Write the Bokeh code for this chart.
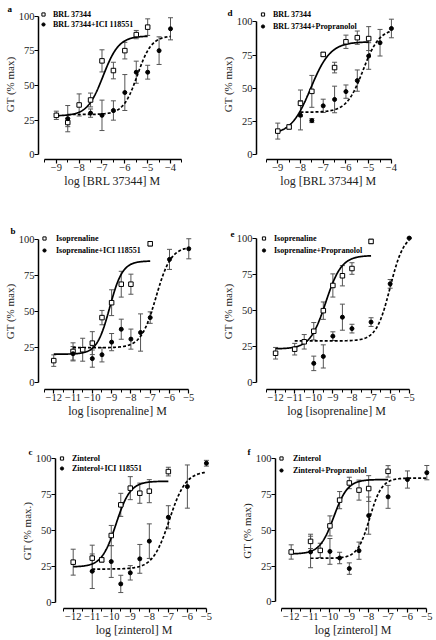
import numpy as np
from bokeh.plotting import figure
from bokeh.models import (ColumnDataSource, Whisker, TeeHead, Legend, LegendItem,
                          FixedTicker, Range1d)
from bokeh.layouts import row, column
from bokeh.embed import file_html
from bokeh.resources import INLINE

FONT = "Liberation Serif"

# ---------------- data ----------------
# panel a : BRL 37344 +/- ICI 118551
a_ctrl_x = [-9, -8.5, -8, -7.5, -7, -6.5, -6, -5.5, -5]
a_ctrl_y = [28.4, 23.2, 35.9, 39.5, 67.8, 60.8, 75.2, 86.8, 92.2]
a_ctrl_err = [3, 3, 8, 5, 8, 6, 6, 3, 6]
a_ant_x = [-8.5, -7.5, -7, -6.5, -6, -5.5, -5, -4.5, -4]
a_ant_y = [26, 30, 28.4, 31.9, 44.9, 59.6, 59.6, 75.2, 91]
a_ant_err = [9.5, 3, 11, 7, 13, 8, 5, 10, 8]
a_fit_ctrl = [28, 85.8, -6.95, 1.25]   # bottom, top, logEC50, Hill slope
a_fit_ant = [29, 86, -5.45, 1.4]
a_span_ctrl = [-9, -5]
a_span_ant = [-8.5, -4]
a_labels = ["BRL 37344", "BRL 37344+ICI 118551"]

# panel d : BRL 37344 +/- Propranolol
d_ctrl_x = [-9, -8.5, -8, -7.5, -7, -6.5, -6, -5.5, -5]
d_ctrl_y = [17.8, 20.9, 38.7, 47.7, 75.5, 65.6, 85, 88.1, 87.4]
d_ctrl_err = [6, 1.5, 10, 12, 1.5, 4, 5, 5, 9]
d_ant_x = [-8, -7.5, -7, -6.5, -6, -5.5, -5, -4.5, -4]
d_ant_y = [29.7, 25.7, 36.8, 41.6, 47.5, 55.8, 74.3, 84.3, 95]
d_ant_err = [11, 1.5, 5, 10, 5, 8, 10, 10, 7]
d_fit_ctrl = [15, 85, -7.55, 1.0]
d_fit_ant = [32, 95, -5.25, 1.2]
d_span_ctrl = [-9, -5]
d_span_ant = [-8, -4]
d_labels = ["BRL 37344", "BRL 37344+Propranolol"]

# panel b : Isoprenaline +/- ICI 118551
b_ctrl_x = [-12, -11, -10.5, -10, -9.5, -9, -8.5, -8, -7]
b_ctrl_y = [15.5, 21.9, 23.1, 27.7, 45.5, 55.9, 68.8, 68.8, 97]
b_ctrl_err = [4, 6, 8, 8, 5, 9, 9, 7, 1.5]
b_ant_x = [-11, -10, -9.5, -9, -8.5, -8, -7.5, -7, -6, -5]
b_ant_y = [20.3, 16.9, 19.6, 28.4, 37.4, 30.5, 35.1, 45.5, 86.1, 93.5]
b_ant_err = [5, 6, 5, 6, 7, 7, 13, 4, 7, 7]
b_fit_ctrl = [20, 85, -9.1, 1.3]
b_fit_ant = [24.5, 95, -6.7, 1.12]
b_span_ctrl = [-12, -7]
b_span_ant = [-11, -5]
b_labels = ["Isoprenaline", "Isoprenaline+ICI 118551"]

# panel e : Isoprenaline +/- Propranolol
e_ctrl_x = [-12, -11, -10.5, -10, -9.5, -9, -8.5, -8, -7]
e_ctrl_y = [20.5, 23.3, 28.4, 35.7, 49.9, 67.3, 74, 79, 97.7]
e_ctrl_err = [4, 4, 5, 6, 6, 8, 7, 4, 1.5]
e_ant_x = [-10, -9.5, -9, -8.5, -8, -7, -6, -5]
e_ant_y = [13.5, 18.3, 32.3, 45.4, 37.5, 42, 68.4, 100]
e_ant_err = [5, 8, 3, 9, 3, 3, 3, 0]
e_fit_ctrl = [23.5, 88, -9.37, 1.05]
e_fit_ant = [29, 103, -6.0, 1.2]
e_span_ctrl = [-12, -7]
e_span_ant = [-11, -5]
e_labels = ["Isoprenaline", "Isoprenaline+Propranolol"]

# panel c : Zinterol +/- ICI 118551
c_ctrl_x = [-12, -11, -10.5, -10, -9.5, -9, -8.5, -8, -7]
c_ctrl_y = [27.8, 30.6, 29.4, 46.3, 67.6, 79.2, 75.7, 77.1, 90.7]
c_ctrl_err = [9, 9, 1.5, 7, 8, 8, 7, 8, 3]
c_ant_x = [-11, -10, -9.5, -9, -8.5, -8, -7, -6, -5]
c_ant_y = [21.5, 28.2, 12.7, 20.4, 30.1, 42.4, 59, 80.3, 96.5]
c_ant_err = [12, 11, 6, 5, 10, 12, 8, 15, 2]
c_fit_ctrl = [24.5, 84, -9.75, 1.15]
c_fit_ant = [23, 91, -6.95, 1.0]
c_span_ctrl = [-12, -7]
c_span_ant = [-11, -5]
c_labels = ["Zinterol", "Zinterol+ICI 118551"]

# panel f : Zinterol +/- Propranolol
f_ctrl_x = [-12, -11, -10.5, -10, -9.5, -9, -8.5, -8, -7]
f_ctrl_y = [34.9, 42.3, 36, 53.1, 71.1, 83.1, 78.1, 79.2, 91.2]
f_ctrl_err = [5, 5, 5, 7, 6, 4, 7, 9, 4]
f_ant_x = [-11, -10, -9.5, -9, -8.5, -8, -7, -6, -5]
f_ant_y = [34.9, 35.3, 30.7, 23.3, 35.8, 60.3, 73.4, 85.5, 90.3]
f_ant_err = [11, 9, 4, 4, 6, 13, 8, 6, 5]
f_fit_ctrl = [33.5, 85.5, -9.8, 1.2]
f_fit_ant = [30.5, 86.5, -7.95, 1.38]
f_span_ctrl = [-12, -7]
f_span_ant = [-11, -5]
f_labels = ["Zinterol", "Zinterol+Propranolol"]

y_ticks = [0, 25, 50, 75, 100]

ERR_COLOR = "#555555"


def sigmoid(x, fit):
    bottom, top, ec, hill = fit
    return bottom + (top - bottom) / (1 + 10 ** ((ec - x) * hill))


def make_panel(letter, ctrl, ant, fits, spans, labels, xlabel, ylabel, g):
    W, H, L, T, B, R = g["size"]
    xr, yr = g["xr"], g["yr"]
    p = figure(width=W, height=H, output_backend="svg", toolbar_location=None,
               x_range=Range1d(*xr), y_range=Range1d(*yr), title=letter,
               min_border_left=L, min_border_right=R,
               min_border_top=T, min_border_bottom=B)
    p.outline_line_color = None
    p.grid.visible = False
    p.background_fill_color = "white"
    p.border_fill_color = "white"

    # panel letter as the figure title, shifted left of the y axis
    p.title.align = "left"
    p.title.offset = g["letter_dx"]
    p.title.standoff = g["letter_so"]
    p.title.text_font = FONT
    p.title.text_font_style = "bold"
    p.title.text_font_size = "9px"
    p.title.text_color = "black"

    # fitted curves
    for fit, span, dash in ((fits[0], spans[0], "solid"), (fits[1], spans[1], "3 2")):
        xs = np.linspace(span[0], span[1], 200)
        p.line(xs, sigmoid(xs, fit), line_color="black", line_width=1.7, line_dash=dash)

    # error bars
    for (xs, ys, es) in (ctrl, ant):
        src = ColumnDataSource(dict(x=xs, lower=[y - e for y, e in zip(ys, es)],
                                    upper=[y + e for y, e in zip(ys, es)]))
        wk = Whisker(source=src, base="x", lower="lower", upper="upper",
                     line_color=ERR_COLOR, line_width=1, level="underlay",
                     upper_head=TeeHead(size=5, line_color=ERR_COLOR, line_width=1),
                     lower_head=TeeHead(size=5, line_color=ERR_COLOR, line_width=1))
        p.add_layout(wk)

    r1 = p.scatter(ctrl[0], ctrl[1], marker="square", size=4.5, fill_color="white",
                   line_color="black", line_width=1)
    r2 = p.scatter(ant[0], ant[1], marker="circle", size=4, fill_color="black",
                   line_color="black")

    gw, so, lh, sp = g["legend"]
    leg = Legend(items=[LegendItem(label=labels[0], renderers=[r1]),
                        LegendItem(label=labels[1], renderers=[r2])],
                 location="top_left", margin=0, padding=0, spacing=sp,
                 glyph_width=gw, glyph_height=8, label_height=lh,
                 label_standoff=so, label_text_font=FONT,
                 label_text_font_style="bold", label_text_font_size="8px",
                 background_fill_alpha=0, border_line_alpha=0,
                 label_text_color="black")
    p.add_layout(leg)

    # axes
    xmin_b, xmax_b = g["xb"]
    major = list(range(int(np.ceil(xmin_b)), int(np.floor(xmax_b)) + 1))
    minor = [m + 0.5 for m in range(int(np.floor(xmin_b)), int(np.floor(xmax_b)) + 1)
             if xmin_b <= m + 0.5 <= xmax_b]
    p.xaxis.ticker = FixedTicker(ticks=major, minor_ticks=minor)
    p.xaxis.bounds = (xmin_b, xmax_b)
    p.yaxis.ticker = FixedTicker(ticks=y_ticks, minor_ticks=[])
    p.yaxis.bounds = (0, 100)
    for ax in (p.xaxis[0], p.yaxis[0]):
        ax.axis_line_width = 1.5
        ax.axis_line_color = "black"
        ax.major_tick_line_color = "black"
        ax.major_tick_line_width = 1.2
        ax.major_tick_out = 4
        ax.major_tick_in = 0
        ax.minor_tick_line_color = "black"
        ax.minor_tick_line_width = 1
        ax.minor_tick_out = 3
        ax.minor_tick_in = 0
        ax.major_label_text_font = FONT
        ax.major_label_text_font_size = "10.5px"
        ax.major_label_text_color = "#222222"
        ax.major_label_standoff = 0
        ax.axis_label_text_font = FONT
        ax.axis_label_text_font_style = "normal"
        ax.axis_label_text_color = "#222222"
        ax.axis_label_standoff = 0
    p.xaxis.axis_label_text_font_size = "12px"
    p.yaxis.axis_label_text_font_size = "11px"
    p.xaxis.axis_label = xlabel
    p.yaxis.axis_label = ylabel
    return p


geo = {
    "a": dict(size=(218, 210, 37, 9, 48, 32), xr=(-9.78, -3.30), yr=(-3.55, 104.96),
              xb=(-9.5, -3.5), legend=(10, 5, 10, 0), letter_dx=-31, letter_so=-9),
    "d": dict(size=(218, 210, 35, 1, 51, 36), xr=(-9.935, -3.6), yr=(-3.57, 109.29),
              xb=(-9.5, -4), legend=(13, 4, 10, 2), letter_dx=-29, letter_so=-17),
    "b": dict(size=(218, 210, 37, 23, 30, 22), xr=(-12.79, -4.6), yr=(-4.64, 104.16),
              xb=(-12.5, -5), legend=(12, 6, 10, 2), letter_dx=-28, letter_so=-5),
    "e": dict(size=(218, 210, 36, 22, 29, 20), xr=(-13.0, -4.62), yr=(-4.54, 103.18),
              xb=(-12.5, -5), legend=(15, 3, 10, 2), letter_dx=-26, letter_so=-6),
    "c": dict(size=(218, 220, 55, 33, 32, 6), xr=(-12.93, -4.68), yr=(-4.375, 103.26),
              xb=(-12.5, -5), legend=(13, 4, 10, 0), letter_dx=-27, letter_so=-6),
    "f": dict(size=(218, 220, 57, 33, 31, 6), xr=(-12.81, -4.81), yr=(-4.57, 103.67),
              xb=(-12.5, -5), legend=(12, 6, 10, 2), letter_dx=-28, letter_so=-6),
}

pa = make_panel("a", (a_ctrl_x, a_ctrl_y, a_ctrl_err), (a_ant_x, a_ant_y, a_ant_err),
                (a_fit_ctrl, a_fit_ant), (a_span_ctrl, a_span_ant), a_labels,
                "log [BRL 37344] M", "GT (% max)", geo["a"])
pd_ = make_panel("d", (d_ctrl_x, d_ctrl_y, d_ctrl_err), (d_ant_x, d_ant_y, d_ant_err),
                 (d_fit_ctrl, d_fit_ant), (d_span_ctrl, d_span_ant), d_labels,
                 "log [BRL 37344] M", "GT (% max)", geo["d"])
pb = make_panel("b", (b_ctrl_x, b_ctrl_y, b_ctrl_err), (b_ant_x, b_ant_y, b_ant_err),
                (b_fit_ctrl, b_fit_ant), (b_span_ctrl, b_span_ant), b_labels,
                "log [isoprenaline] M", "GT (% max)", geo["b"])
pe = make_panel("e", (e_ctrl_x, e_ctrl_y, e_ctrl_err), (e_ant_x, e_ant_y, e_ant_err),
                (e_fit_ctrl, e_fit_ant), (e_span_ctrl, e_span_ant), e_labels,
                "log [isoprenaline] M", "GT (% max)", geo["e"])
pc = make_panel("c", (c_ctrl_x, c_ctrl_y, c_ctrl_err), (c_ant_x, c_ant_y, c_ant_err),
                (c_fit_ctrl, c_fit_ant), (c_span_ctrl, c_span_ant), c_labels,
                "log [zinterol] M", "GT (% max.)", geo["c"])
pf = make_panel("f", (f_ctrl_x, f_ctrl_y, f_ctrl_err), (f_ant_x, f_ant_y, f_ant_err),
                (f_fit_ctrl, f_fit_ant), (f_span_ctrl, f_span_ant), f_labels,
                "log [zinterol] M", "GT (% max)", geo["f"])

layout = column(row(pa, pd_, spacing=0), row(pb, pe, spacing=0), row(pc, pf, spacing=0),
                spacing=0)

open("out.html", "w").write(file_html(layout, INLINE))
